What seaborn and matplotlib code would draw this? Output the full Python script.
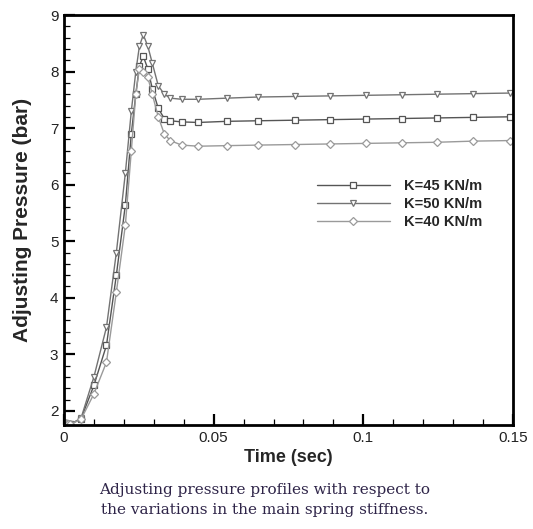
import numpy as np
import pandas as pd
import matplotlib
matplotlib.use("Agg")
import matplotlib.pyplot as plt
import seaborn as sns
from matplotlib.ticker import MultipleLocator

# time samples (sec)
time_s = [0.0, 0.0005, 0.001, 0.0015, 0.002, 0.0057, 0.010, 0.0142, 0.0175,
          0.0205, 0.0225, 0.0240, 0.0252, 0.0265, 0.0280, 0.0295, 0.0315,
          0.0335, 0.0355, 0.0393, 0.0449, 0.0544, 0.0649, 0.0772, 0.0889,
          0.1008, 0.1128, 0.1247, 0.1367, 0.1490]

# adjusting pressure (bar)
p_k45 = [1.78, 1.78, 1.77, 1.76, 1.76, 1.86, 2.45, 3.16, 4.40, 5.64, 6.90,
         7.60, 8.10, 8.27, 8.05, 7.70, 7.35, 7.17, 7.13, 7.11, 7.10, 7.12,
         7.13, 7.14, 7.15, 7.16, 7.17, 7.18, 7.19, 7.20]
p_k50 = [1.78, 1.78, 1.77, 1.76, 1.76, 1.87, 2.60, 3.48, 4.80, 6.20, 7.30,
         8.00, 8.45, 8.65, 8.45, 8.15, 7.75, 7.60, 7.53, 7.51, 7.51, 7.53,
         7.55, 7.56, 7.57, 7.58, 7.59, 7.60, 7.61, 7.62]
p_k40 = [1.78, 1.78, 1.77, 1.76, 1.76, 1.85, 2.30, 2.86, 4.10, 5.28, 6.60,
         7.60, 8.05, 8.00, 7.90, 7.60, 7.20, 6.90, 6.78, 6.70, 6.68, 6.69,
         6.70, 6.71, 6.72, 6.73, 6.74, 6.75, 6.77, 6.78]

series = [
    ("K=45 KN/m", p_k45, "s", "#555555"),
    ("K=50 KN/m", p_k50, "v", "#737373"),
    ("K=40 KN/m", p_k40, "D", "#9a9a9a"),
]

sns.set_theme(style="white")
plt.rcParams["font.family"] = ["Liberation Sans", "DejaVu Sans"]

fig = plt.figure(figsize=(5.33, 5.29), dpi=100)
ax = fig.add_axes([0.120, 0.1966, 0.8425, 0.775])

for label, vals, mk, col in series:
    df = pd.DataFrame({"t": time_s, "p": vals})
    sns.lineplot(data=df, x="t", y="p", ax=ax, color=col, linewidth=1.0,
                 marker=mk, markersize=4.2 if mk != "D" else 3.8,
                 markerfacecolor="white", markeredgecolor=col,
                 markeredgewidth=0.9, label=label)

ax.set_xlim(0, 0.15)
ax.set_ylim(1.75, 9)
ax.xaxis.set_minor_locator(MultipleLocator(0.01))
ax.yaxis.set_major_locator(MultipleLocator(1))
ax.yaxis.set_minor_locator(MultipleLocator(0.2))
ax.set_xticks([0, 0.05, 0.1, 0.15])
ax.set_xticklabels(["0", "0.05", "0.1", "0.15"])
ax.tick_params(which="major", direction="in", length=8, width=1.6,
               colors="black", labelsize=11, top=False, right=False,
               left=True, bottom=True, pad=4, labelcolor="#222222")
ax.tick_params(which="minor", direction="in", length=4, width=0.9,
               colors="black", top=False, right=False, left=True, bottom=True)
for sp in ax.spines.values():
    sp.set_visible(True)
    sp.set_color("black")
    sp.set_linewidth(2.0)

ax.set_xlabel("Time (sec)", fontsize=13, fontweight="bold", labelpad=3)
ax.set_ylabel("Adjusting Pressure (bar)", fontsize=15, fontweight="bold",
              labelpad=13)

leg = ax.legend(loc="upper left", bbox_to_anchor=(0.55, 0.615), frameon=False,
                handlelength=5.0, handletextpad=1.0, labelspacing=0.3,
                fontsize=10.5, borderaxespad=0)
for txt in leg.get_texts():
    txt.set_fontweight("bold")

fig.text(0.497, 0.055, "Adjusting pressure profiles with respect to\n"
         "the variations in the main spring stiffness.",
         ha="center", va="center", fontsize=11, family="DejaVu Serif",
         color="#2e2448", linespacing=1.5)

fig.savefig("out.png", dpi=100)
